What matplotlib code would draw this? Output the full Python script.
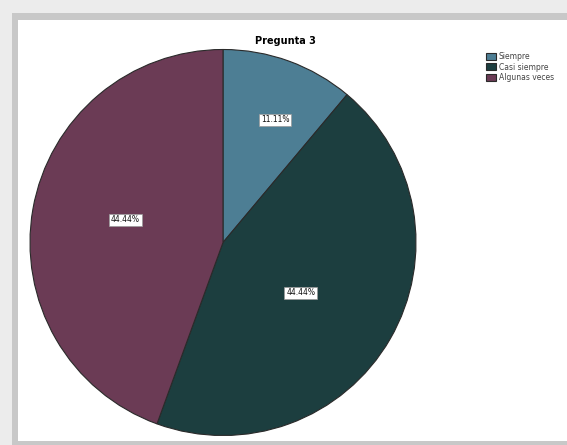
import numpy as np
import matplotlib
matplotlib.use("Agg")
import matplotlib.pyplot as plt
from matplotlib.patches import Rectangle

title = "Pregunta 3"
categories = ["Siempre", "Casi siempre", "Algunas veces"]
values = [11.11, 44.44, 44.44]
label_radius = [0.69, 0.48, 0.52]
colors = ["#4d7e94", "#1c3e3f", "#6b3b55"]

W, H = 567, 445
fig = plt.figure(figsize=(W / 100, H / 100), dpi=100)
fig.patch.set_facecolor("#ececec")

def px_rect(x0, y0, x1, y1, color):
    fig.patches.append(Rectangle((x0 / W, 1 - y1 / H), (x1 - x0) / W, (y1 - y0) / H,
                                 transform=fig.transFigure, facecolor=color,
                                 edgecolor="none", zorder=-10))

px_rect(12, 13, W, 445, "#c8c8c8")
px_rect(18, 20, W, 441, "#ffffff")

cx, cy, r = 223, 242.5, 193
ax = fig.add_axes([(cx - r) / W, (H - cy - r) / H, 2 * r / W, 2 * r / H])
ax.set_zorder(5)
wedges, _ = ax.pie(values, colors=colors, startangle=90, counterclock=False,
                   wedgeprops=dict(edgecolor="#2a2a2a", linewidth=0.8))
ax.set_xlim(-1, 1)
ax.set_ylim(-1, 1)
ax.set_aspect("equal")
ax.axis("off")

for w, v, rr in zip(wedges, values, label_radius):
    ang = np.deg2rad((w.theta1 + w.theta2) / 2 - 3)
    ax.text(rr * np.cos(ang), rr * np.sin(ang), f"{v:.2f}%", ha="center", va="center",
            fontsize=5.5, color="#111111",
            bbox=dict(boxstyle="square,pad=0.25", facecolor="white", edgecolor="#999999", linewidth=0.5))

fig.text(285 / W, 1 - 41 / H, title, ha="center", va="center", fontsize=7, fontweight="bold")

leg = ax.legend(wedges, categories, loc="upper left", bbox_to_anchor=(486 / W, 1 - 52 / H),
                bbox_transform=fig.transFigure, frameon=False, fontsize=5.5,
                handlelength=1.3, handleheight=1.0, labelspacing=0.2, handletextpad=0.4,
                borderpad=0, borderaxespad=0)
for t in leg.get_texts():
    t.set_color("#444444")

fig.savefig("out.png", dpi=100)
